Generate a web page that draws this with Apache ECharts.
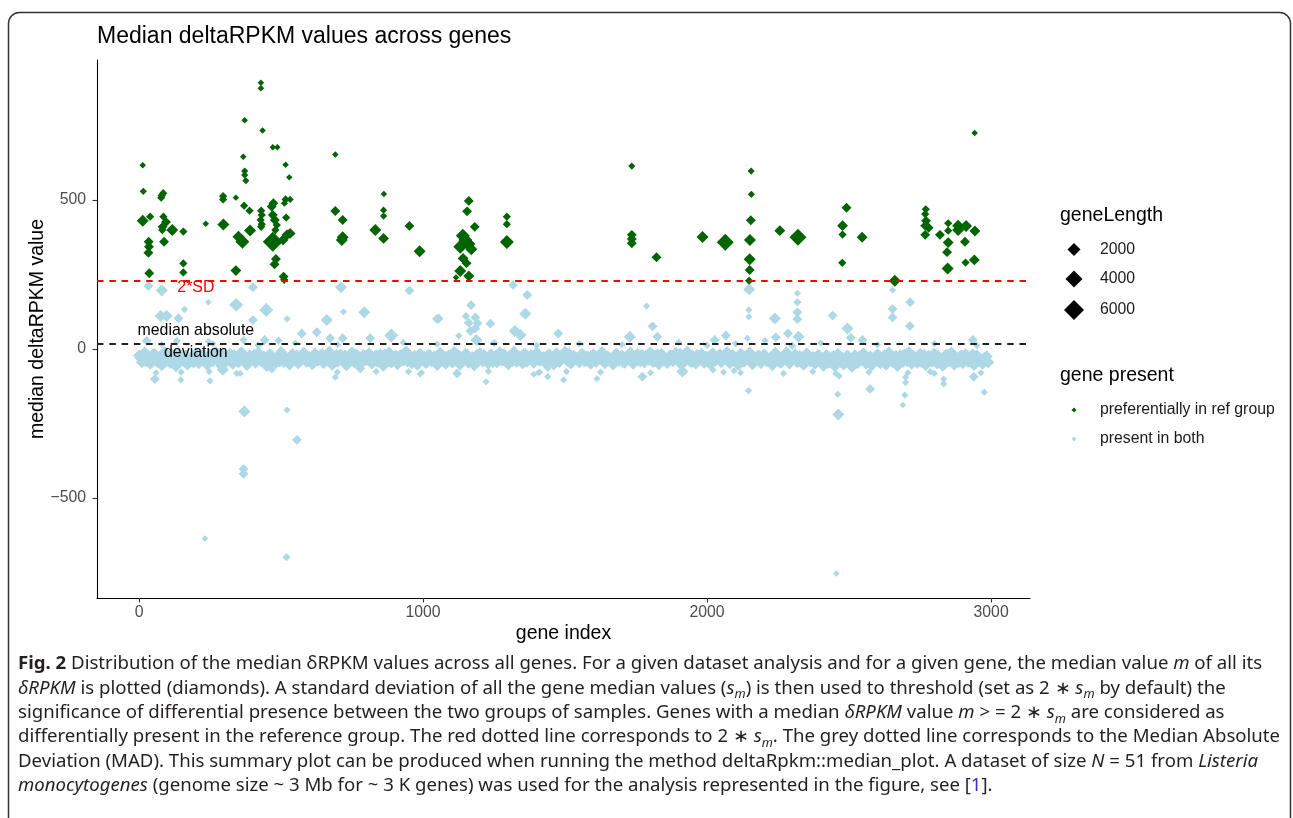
<!DOCTYPE html>
<html>
<head>
<meta charset="utf-8">
<script src="https://cdn.jsdelivr.net/npm/echarts@6/dist/echarts.min.js"></script>
<style>
html, body { margin: 0; padding: 0; background: #fff; }
#chart { width: 1293px; height: 818px; }
</style>
</head>
<body>
<div id="chart"></div>
<script>
// genes preferentially present in the ref group: [gene index, median deltaRPKM, gene length]
const refGenes = [
  [429, 894, 200], [429, 875, 200], [372, 768, 200], [435, 733, 200], [471, 677, 200], [487, 677, 200],
  [13, 617, 200], [516, 618, 200], [367, 645, 200], [372, 597, 300], [372, 584, 300], [376, 565, 300],
  [529, 576, 200], [691, 653, 200], [15, 529, 300], [85, 523, 500], [80, 515, 500], [78, 508, 500],
  [296, 513, 500], [296, 502, 500], [341, 508, 200], [516, 502, 500], [532, 502, 300], [512, 489, 300],
  [862, 520, 200], [370, 481, 500], [389, 464, 500], [473, 489, 900], [467, 478, 900], [430, 464, 500],
  [432, 450, 500], [428, 433, 500], [432, 419, 500], [430, 410, 500], [471, 450, 900], [478, 433, 900],
  [485, 416, 500], [480, 399, 500], [518, 441, 500], [39, 444, 500], [13, 430, 1600], [86, 444, 500],
  [95, 426, 900], [83, 410, 900], [82, 399, 500], [117, 399, 1600], [156, 394, 500], [235, 420, 200],
  [297, 418, 1600], [391, 398, 1600], [691, 463, 900], [717, 433, 900], [717, 375, 1600], [714, 366, 1600],
  [861, 466, 300], [861, 446, 300], [832, 399, 1600], [861, 371, 1200], [952, 413, 900], [988, 328, 1600],
  [364, 360, 2400], [350, 377, 1600], [471, 360, 6000], [507, 366, 1200], [532, 388, 1200], [521, 383, 1200],
  [34, 360, 900], [35, 343, 900], [33, 323, 900], [88, 360, 900], [482, 302, 900], [477, 284, 900],
  [156, 287, 500], [156, 257, 500], [36, 254, 900], [341, 263, 1200], [509, 243, 900], [511, 232, 500],
  [1735, 614, 300], [2155, 597, 300], [2156, 519, 300], [2154, 432, 900], [2151, 366, 1600], [2150, 301, 1600],
  [2150, 265, 900], [2148, 229, 500], [1161, 497, 900], [1155, 462, 900], [1182, 410, 900], [1149, 366, 2400],
  [1131, 343, 2400], [1141, 304, 1200], [1153, 288, 900], [1131, 262, 1600], [1161, 245, 1200], [1116, 240, 200],
  [1140, 380, 2400], [1160, 352, 2400], [1170, 335, 1600], [1295, 444, 500], [1295, 419, 500], [1295, 359, 2400],
  [1735, 383, 900], [1735, 369, 900], [1735, 355, 900], [1822, 308, 900], [1984, 376, 1600], [2064, 358, 4000],
  [2942, 725, 200], [2491, 474, 900], [2477, 414, 1200], [2477, 384, 500], [2546, 375, 1200], [2476, 289, 500],
  [2256, 397, 1200], [2320, 375, 4000], [2661, 229, 1600], [2770, 469, 500], [2768, 453, 500], [2771, 430, 900],
  [2768, 414, 900], [2780, 407, 900], [2768, 383, 900], [2820, 383, 900], [2849, 422, 500], [2849, 397, 500],
  [2849, 357, 1200], [2845, 325, 900], [2847, 270, 1600], [2884, 414, 1600], [2884, 399, 1600], [2912, 413, 1600],
  [2908, 360, 900], [2910, 290, 500], [2943, 396, 1200], [2941, 299, 1200]
];

// genes present in both groups, away from the main band: [gene index, median deltaRPKM, gene length]
const bothOutliers = [
  [33, 211, 900], [80, 196, 1600], [244, 157, 200], [342, 148, 2400], [401, 207, 900], [448, 131, 2400],
  [711, 207, 1600], [952, 196, 900], [160, 133, 300], [76, 111, 1600], [97, 111, 1600], [139, 103, 900],
  [401, 97, 900], [521, 101, 300], [661, 97, 1600], [720, 125, 300], [793, 123, 1600], [1049, 101, 900],
  [888, 45, 2400], [573, 52, 900], [626, 56, 900], [673, 36, 900], [717, 36, 900], [814, 36, 900],
  [442, 30, 900], [491, 28, 500], [244, 25, 300], [133, 27, 500], [27, 27, 900], [368, 30, 500],
  [56, -101, 900], [147, -104, 300], [250, -107, 300], [371, -210, 1600], [521, -205, 300], [556, -305, 900],
  [295, -70, 1600], [344, -82, 300], [468, -70, 300], [691, -95, 300], [779, -65, 900], [949, -76, 300],
  [990, -84, 300], [368, -403, 900], [368, -419, 900], [232, -636, 200], [519, -699, 500], [2462, -220, 1600],
  [2689, -188, 200], [2455, -754, 200], [1317, 215, 900], [1367, 181, 900], [1169, 147, 900], [1055, 102, 900],
  [1151, 110, 500], [1161, 88, 900], [1184, 106, 900], [1192, 86, 900], [1184, 69, 900], [1167, 60, 900],
  [1237, 85, 900], [1360, 118, 1600], [1126, 44, 300], [1188, 30, 1600], [1323, 60, 1600], [1343, 47, 1600],
  [1476, 52, 900], [1787, 144, 300], [1808, 76, 900], [1825, 41, 900], [1728, 41, 1600], [2066, 45, 900],
  [2027, 30, 900], [2148, 200, 1600], [2147, 131, 300], [2147, 108, 300], [2142, 36, 300], [2204, 28, 300],
  [1120, -82, 900], [1222, -110, 300], [1390, -85, 300], [1410, -78, 300], [1439, -65, 300], [1439, -93, 300],
  [1495, -104, 300], [1612, -100, 300], [1772, -93, 900], [1913, -76, 1600], [2021, -70, 300], [2095, -73, 300],
  [2146, -140, 300], [2318, 187, 300], [2318, 157, 500], [2318, 123, 900], [2318, 100, 900], [2239, 102, 1600],
  [2442, 112, 900], [2494, 69, 1600], [2653, 198, 300], [2653, 134, 900], [2653, 106, 900], [2715, 157, 900],
  [2714, 77, 900], [2285, 52, 900], [2322, 41, 1600], [2506, 38, 900], [2547, 30, 900], [2936, 30, 900],
  [2242, 39, 900], [2269, -82, 300], [2574, -134, 900], [2460, -152, 300], [2696, -155, 300], [2699, -95, 300],
  [2699, -113, 300], [2833, -101, 300], [2833, -117, 300], [2939, -93, 900], [2976, -145, 300], [2465, -91, 300],
  [2800, -82, 300],
  // small bumps just above / below the band
  [80, 15, 300], [260, 18, 300], [420, 12, 500], [550, 20, 300], [700, 14, 300], [930, 22, 300],
  [1050, 16, 300], [1250, 20, 500], [1400, 12, 300], [1550, 18, 300], [1700, 15, 300], [1900, 22, 300],
  [2000, 12, 300], [2100, 18, 300], [2300, 10, 500], [2400, 20, 300], [2600, 14, 300], [2800, 18, 300],
  [2950, 12, 300], [60, -80, 300], [148, -78, 300], [247, -76, 300], [356, -82, 300], [698, -78, 300],
  [835, -76, 300], [994, -80, 300], [1230, -75, 300], [1406, -80, 300], [1505, -76, 300], [1625, -78, 300],
  [1801, -80, 300], [1921, -76, 300], [2058, -78, 300], [2118, -80, 300], [2372, -76, 300], [2453, -82, 300],
  [2570, -78, 300], [2707, -80, 300], [2785, -76, 300], [2964, -80, 300]
];

// the dense band of genes present in both: sampled genes every bandStep,
// row A starting at gene 0, row B starting half a step later
const bandStep = 10;
const bandLength = 1600;
const bandValuesA = [
  -22, -45, -12, -35, -50, -18, -40, -28, -55, -10, -33, -47, -20, -58, -15, -38, -25, -52, -30, -44,
  -14, -48, -27, -36, -53, -19, -42, -9, -31, -56, -24, -39, -16, -50, -29, -45, -11, -37, -54, -21,
  -33, -46, -13, -41, -26, -57, -18, -35, -49, -23, -10, -44, -30, -52, -17, -38, -48, -25, -12, -43,
  -28, -51, -15, -39, -22, -47, -34, -9, -53, -27, -42, -19, -36, -55, -24, -11, -46, -31, -50, -20,
  -37, -14, -49, -26, -43, -18, -56, -32, -12, -45, -29, -51, -21, -40, -8, -35, -48, -23, -53, -16,
  -30, -47, -19, -41, -25, -54, -13, -38, -50, -22, -44, -10, -34, -52, -27, -16, -46, -32, -55, -20,
  -15, -42, -28, -49, -18, -36, -45, -11, -39, -24, -51, -30, -9, -43, -26, -48, -17, -37, -22, -46,
  -12, -40, -29, -47, -20, -35, -52, -14, -44, -27, -9, -38, -49, -23, -33, -45, -16, -41, -25, -50,
  -18, -43, -31, -10, -48, -26, -37, -52, -15, -40, -22, -46, -34, -12, -50, -28, -39, -19, -45, -30,
  -11, -44, -25, -51, -17, -36, -47, -21, -41, -13, -33, -53, -28, -9, -42, -24, -49, -35, -16, -46,
  -27, -50, -14, -39, -23, -45, -32, -10, -48, -20, -37, -54, -16, -43, -29, -12, -51, -34, -22, -47,
  -19, -41, -30, -55, -13, -38, -46, -24, -11, -49, -33, -18, -44, -27, -53, -15, -40, -31, -50, -21,
  -36, -56, -20, -45, -30, -58, -16, -42, -52, -25, -38, -60, -22, -47, -33, -14, -50, -40, -55, -26,
  -18, -48, -32, -53, -12, -40, -27, -57, -21, -44, -35, -10, -50, -29, -46, -16, -38, -54, -24, -43,
  -15, -49, -31, -56, -20, -41, -12, -52, -35, -25, -47, -18, -43, -30, -54, -22, -38, -50, -28, -45
];
const bandValuesB = [
  -30, -20, -41, -26, -36, -17, -44, -32, -23, -38, -28, -19, -42, -34, -25, -40, -21, -35, -29, -43,
  -24, -37, -18, -33, -45, -27, -22, -39, -31, -16, -43, -26, -35, -20, -41, -30, -23, -38, -28, -34,
  -19, -40, -29, -25, -44, -33, -21, -36, -27, -42, -18, -31, -39, -24, -35, -22, -45, -30, -26, -37,
  -41, -23, -34, -28, -17, -39, -32, -25, -43, -20, -36, -29, -22, -40, -33, -27, -18, -38, -31, -24,
  -35, -26, -42, -21, -30, -38, -19, -33, -44, -28, -23, -37, -31, -16, -41, -25, -34, -29, -20, -39,
  -27, -43, -22, -36, -31, -18, -40, -26, -35, -24, -45, -29, -21, -38, -33, -19, -42, -28, -25, -36,
  -32, -20, -39, -27, -44, -23, -30, -37, -18, -34, -26, -41, -22, -36, -29, -17, -43, -31, -24, -38,
  -21, -35, -28, -42, -19, -33, -25, -40, -30, -23, -37, -16, -44, -27, -32, -20, -39, -26, -34, -29,
  -40, -24, -33, -18, -37, -29, -43, -22, -31, -26, -45, -35, -20, -38, -27, -17, -41, -32, -23, -36,
  -28, -39, -19, -34, -25, -42, -30, -21, -37, -27, -16, -40, -33, -23, -44, -29, -20, -36, -31, -26,
  -35, -22, -41, -28, -18, -38, -32, -24, -43, -26, -30, -19, -39, -34, -21, -45, -27, -36, -25, -33,
  -23, -40, -29, -36, -20, -44, -26, -31, -17, -38, -28, -42, -24, -35, -30, -19, -41, -27, -37, -22,
  -38, -27, -46, -31, -24, -43, -35, -29, -48, -22, -40, -33, -45, -26, -37, -30, -44, -25, -41, -34,
  -29, -42, -21, -36, -31, -45, -24, -38, -27, -18, -41, -33, -23, -39, -28, -44, -20, -35, -30, -26,
  -37, -24, -43, -29, -20, -39, -32, -26, -45, -22, -35, -30, -41, -18, -36, -27, -44, -31, -25
];

const twoSD = 228;
const mad = 17;
const legendLengths = [2000, 4000, 6000];
const xTicks = [0, 1000, 2000, 3000];
const yTicks = [-500, 0, 500];

const FONT = 'Liberation Sans';
const GREEN = '#006400';
const BLUE = '#add8e6';
const TICK_SIZE = 15.8;
const NAME_SIZE = 19.5;

// point width in px grows with sqrt(gene length)
function sizeOf(len) {
  return 3.47 + 0.213 * Math.sqrt(len);
}

const bandData = bandValuesA.map((v, i) => [i * bandStep, v, bandLength])
  .concat(bandValuesB.map((v, i) => [i * bandStep + bandStep / 2, v, bandLength]));
const bothData = bandData.concat(bothOutliers);

const chart = echarts.init(document.getElementById('chart'));

const axisCommon = {
  type: 'value',
  splitLine: { show: false },
  axisLine: { show: true, onZero: false, lineStyle: { color: '#000', width: 1.1 } },
  axisTick: { show: true, length: 4.5, lineStyle: { color: '#333', width: 1.1 } },
  nameLocation: 'middle',
  nameMoveOverlap: false,
  nameTextStyle: { fontFamily: FONT, fontSize: NAME_SIZE, color: '#000' }
};

const sizeLegends = legendLengths.map((len, i) => {
  const s = sizeOf(len);
  const cy = [248, 279, 310][i];
  return {
    data: [String(len)],
    left: 1074 - s / 2,
    top: cy - s / 2,
    padding: 0,
    icon: 'diamond',
    itemWidth: s,
    itemHeight: s,
    selectedMode: false,
    itemStyle: { color: '#000', opacity: 1 },
    textStyle: { fontFamily: FONT, fontSize: TICK_SIZE, color: '#1a1a1a', padding: [0, 0, 0, 1100 - (1074 + s / 2 + 5)] }
  };
});

const caption = [
  '{b|Fig. 2} Distribution of the median δRPKM values across all genes. For a given dataset analysis and for a given gene, the median value {i|m} of all its',
  '{i|δRPKM} is plotted (diamonds). A standard deviation of all the gene median values ({i|s}{sub|m}) is then used to threshold (set as 2 ∗ {i|s}{sub|m} by default) the',
  'significance of differential presence between the two groups of samples. Genes with a median {i|δRPKM} value {i|m} > = 2 ∗ {i|s}{sub|m} are considered as',
  'differentially present in the reference group. The red dotted line corresponds to 2 ∗ {i|s}{sub|m}. The grey dotted line corresponds to the Median Absolute',
  'Deviation (MAD). This summary plot can be produced when running the method deltaRpkm::median_plot. A dataset of size {i|N} = 51 from {i|Listeria}',
  '{i|monocytogenes} (genome size ~ 3 Mb for ~ 3 K genes) was used for the analysis represented in the figure, see [{blue|1}].'
].join('\n');

const CAP_FONT = 'Noto Sans';
const CAP_SIZE = 17.5;
const CAP_LH = 24.4;

chart.setOption({
  animation: false,
  backgroundColor: '#fff',
  title: [
    {
      text: 'Median deltaRPKM values across genes',
      left: 97, top: 25, padding: 0,
      textStyle: { fontFamily: FONT, fontSize: 23, fontWeight: 'normal', color: '#000' }
    },
    {
      text: 'geneLength',
      left: 1060, top: 206, padding: 0,
      textStyle: { fontFamily: FONT, fontSize: NAME_SIZE, fontWeight: 'normal', color: '#000' }
    },
    {
      text: 'gene present',
      left: 1060, top: 366, padding: 0,
      textStyle: { fontFamily: FONT, fontSize: NAME_SIZE, fontWeight: 'normal', color: '#000' }
    }
  ],
  legend: sizeLegends.concat([{
    data: ['preferentially in ref group', 'present in both'],
    orient: 'vertical',
    left: 1071.5,
    top: 402,
    padding: 0,
    icon: 'diamond',
    itemWidth: 5,
    itemHeight: 5,
    itemGap: 13,
    selectedMode: false,
    textStyle: { fontFamily: FONT, fontSize: TICK_SIZE, color: '#1a1a1a', padding: [0, 0, 0, 18.5] }
  }]),
  grid: { left: 97, right: 263, top: 60, bottom: 220, containLabel: false },
  xAxis: Object.assign({}, axisCommon, {
    min: -148, max: 3137,
    name: 'gene index',
    nameGap: 26,
    axisTick: Object.assign({}, axisCommon.axisTick, { customValues: xTicks }),
    axisLabel: {
      customValues: xTicks, fontFamily: FONT, fontSize: TICK_SIZE, color: '#4d4d4d', margin: 7,
      formatter: v => String(v)
    }
  }),
  yAxis: Object.assign({}, axisCommon, {
    min: -836, max: 970,
    name: 'median deltaRPKM value',
    nameGap: 49,
    axisTick: Object.assign({}, axisCommon.axisTick, { customValues: yTicks }),
    axisLabel: {
      customValues: yTicks, fontFamily: FONT, fontSize: TICK_SIZE, color: '#4d4d4d', margin: 11,
      formatter: v => String(v).replace('-', '\u2212')
    }
  }),
  series: [
    {
      name: 'present in both',
      type: 'scatter',
      symbol: 'diamond',
      z: 2,
      data: bothData,
      symbolSize: d => sizeOf(d[2]),
      itemStyle: { color: BLUE, opacity: 1 }
    },
    {
      name: 'preferentially in ref group',
      type: 'scatter',
      symbol: 'diamond',
      z: 3,
      data: refGenes,
      symbolSize: d => sizeOf(d[2]),
      itemStyle: { color: GREEN, opacity: 1 }
    },
    { name: '2000', type: 'scatter', data: [], itemStyle: { color: '#000', opacity: 1 } },
    { name: '4000', type: 'scatter', data: [], itemStyle: { color: '#000', opacity: 1 } },
    { name: '6000', type: 'scatter', data: [], itemStyle: { color: '#000', opacity: 1 } },
    {
      name: 'thresholds',
      type: 'scatter',
      data: [],
      z: 4,
      silent: true,
      markLine: {
        silent: true,
        symbol: ['none', 'none'],
        label: { show: false },
        lineStyle: { type: [6.5, 5.8], width: 1.8 },
        data: [
          { yAxis: twoSD, lineStyle: { color: '#ff0000' } },
          { yAxis: mad, lineStyle: { color: '#222' } }
        ]
      },
      markPoint: {
        silent: true,
        symbolSize: 0,
        label: { show: true, position: 'inside', fontFamily: FONT, fontSize: 15.9, lineHeight: 22, align: 'center', formatter: '{b}' },
        data: [
          { name: '2*SD', coord: [200, 207], label: { color: '#ff0000' } },
          { name: 'median absolute\ndeviation', coord: [200, 23], label: { color: '#000' } }
        ]
      }
    }
  ],
  graphic: [
    {
      type: 'rect',
      shape: { x: 8.5, y: 12.5, width: 1282, height: 900, r: 11 },
      style: { fill: 'none', stroke: '#333', lineWidth: 1.5 },
      silent: true
    },
    {
      type: 'text',
      x: 18,
      y: 652,
      scaleX: 1.063,
      silent: true,
      style: {
        text: caption,
        fontFamily: CAP_FONT,
        fontSize: CAP_SIZE,
        lineHeight: CAP_LH,
        fill: '#231f20',
        rich: {
          b: { fontFamily: CAP_FONT, fontSize: CAP_SIZE, fontWeight: 'bold', lineHeight: CAP_LH, fill: '#231f20' },
          i: { fontFamily: CAP_FONT, fontSize: CAP_SIZE, fontStyle: 'italic', lineHeight: CAP_LH, fill: '#231f20' },
          sub: { fontFamily: CAP_FONT, fontSize: 12, fontStyle: 'italic', lineHeight: 13, verticalAlign: 'bottom', fill: '#231f20' },
          blue: { fontFamily: CAP_FONT, fontSize: CAP_SIZE, lineHeight: CAP_LH, fill: '#3333cc' }
        }
      }
    }
  ]
});
</script>
</body>
</html>
